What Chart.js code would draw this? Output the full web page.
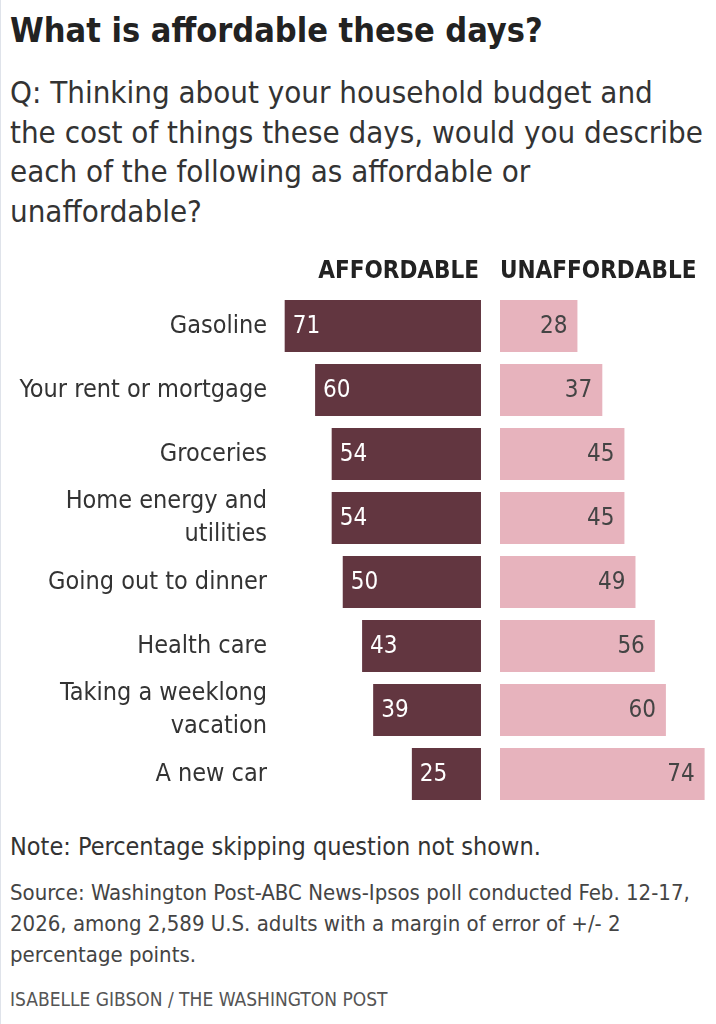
<!DOCTYPE html>
<html>
<head>
<meta charset="utf-8">
<script src="https://cdn.jsdelivr.net/npm/chart.js@4/dist/chart.umd.min.js"></script>
<style>
  body { margin: 0; background: #fff; }
  #page { position: relative; width: 716px; height: 1024px; overflow: hidden; border-left: 1px solid #dfe3ea; box-sizing: border-box;
          font-family: 'Liberation Sans Narrow', 'DejaVu Sans Condensed', Roboto, sans-serif; color: #333; }
  .abs { position: absolute; left: 9px; white-space: nowrap; }
  #title { top: 9px; font-size: 34px; font-weight: bold; color: #222; line-height: 42px; }
  #question { top: 73px; font-size: 31px; line-height: 39.5px; color: #333; }
  #note { top: 830px; font-size: 25px; line-height: 34px; color: #333; }
  #source { top: 877px; font-size: 22px; line-height: 31px; color: #444; }
  #byline { top: 987px; font-size: 19px; line-height: 24px; color: #555; }
  #wrap { position: absolute; left: 0; top: 245px; width: 716px; height: 570px; }
</style>
</head>
<body>
<div id="page">
  <div class="abs" id="title">What is affordable these days?</div>
  <div class="abs" id="question">Q: Thinking about your household budget and<br>the cost of things these days, would you describe<br>each of the following as affordable or<br>unaffordable?</div>
  <div id="wrap"><canvas id="myChart" width="716" height="570"></canvas></div>
  <div class="abs" id="note">Note: Percentage skipping question not shown.</div>
  <div class="abs" id="source">Source: Washington Post-ABC News-Ipsos poll conducted Feb. 12-17,<br>2026, among 2,589 U.S. adults with a margin of error of +/- 2<br>percentage points.</div>
  <div class="abs" id="byline">ISABELLE GIBSON / THE WASHINGTON POST</div>
</div>
<script>
const FONT = "'Liberation Sans Narrow', 'DejaVu Sans Condensed', Roboto, sans-serif";

const categories = [
  'Gasoline',
  'Your rent or mortgage',
  'Groceries',
  ['Home energy and', 'utilities'],
  'Going out to dinner',
  'Health care',
  ['Taking a weeklong', 'vacation'],
  'A new car'
];
const affordable   = [71, 60, 54, 54, 50, 43, 39, 25];
const unaffordable = [28, 37, 45, 45, 49, 56, 60, 74];
const seriesNames  = ['AFFORDABLE', 'UNAFFORDABLE'];

const DARK = '#623640';
const PINK = '#e7b3bd';
const GAP = 3.44; // half of the gap between the two columns, in percentage points

// value labels inside bars + column headers
const barLabels = {
  id: 'barLabels',
  afterDatasetsDraw(chart) {
    const { ctx } = chart;
    ctx.save();
    ctx.font = '24px ' + FONT;
    ctx.textBaseline = 'middle';
    chart.data.datasets.forEach((ds, i) => {
      const meta = chart.getDatasetMeta(i);
      meta.data.forEach((bar, j) => {
        const left = Math.min(bar.x, bar.base);
        const right = Math.max(bar.x, bar.base);
        if (i === 0) {
          ctx.fillStyle = '#fff';
          ctx.textAlign = 'left';
          ctx.fillText(ds.values[j], left + 8, bar.y + 1);
        } else {
          ctx.fillStyle = '#444';
          ctx.textAlign = 'right';
          ctx.fillText(ds.values[j], right - 10, bar.y + 1);
        }
      });
    });
    const x = chart.scales.x;
    ctx.font = 'bold 24px ' + FONT;
    ctx.fillStyle = '#222';
    ctx.textAlign = 'right';
    ctx.fillText(seriesNames[0], x.getPixelForValue(-GAP) - 2, 27);
    ctx.textAlign = 'left';
    ctx.fillText(seriesNames[1], x.getPixelForValue(GAP), 27);
    ctx.restore();
  }
};

const config = {
  type: 'bar',
  data: {
    labels: categories,
    datasets: [
      {
        label: seriesNames[0],
        values: affordable,
        data: affordable.map(v => [-GAP - v, -GAP]),
        backgroundColor: DARK
      },
      {
        label: seriesNames[1],
        values: unaffordable,
        data: unaffordable.map(v => [GAP, GAP + v]),
        backgroundColor: PINK
      }
    ]
  },
  options: {
    indexAxis: 'y',
    responsive: false,
    animation: false,
    layout: {
      padding: { top: 49, bottom: 9, right: 6, left: 0 }
    },
    datasets: {
      bar: {
        grouped: false,
        categoryPercentage: 1,
        barPercentage: 0.81,
        borderWidth: 0
      }
    },
    scales: {
      x: {
        display: false,
        min: -75.77,
        max: 79.75
      },
      y: {
        grid: { display: false, drawTicks: false },
        border: { display: false },
        ticks: {
          autoSkip: false,
          color: '#333',
          padding: 14,
          font: { family: FONT, size: 25, lineHeight: 1.32 }
        },
        afterFit(scale) {
          scale.width = 280;
          scale.paddingTop = 0;
          scale.paddingBottom = 0;
        }
      }
    },
    plugins: {
      legend: { display: false },
      tooltip: { enabled: false }
    }
  },
  plugins: [barLabels]
};

new Chart(document.getElementById('myChart'), config);
</script>
</body>
</html>
